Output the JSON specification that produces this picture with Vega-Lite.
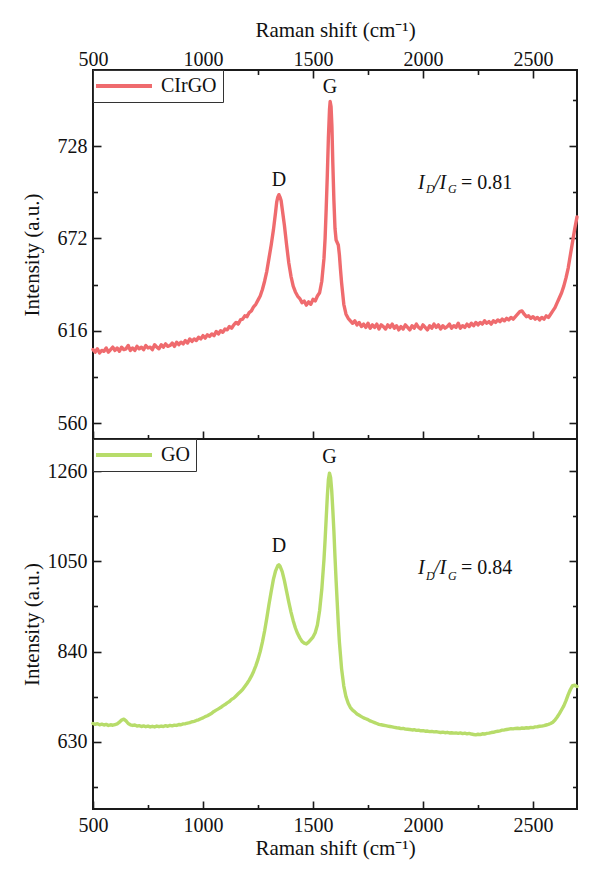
{
  "$schema": "https://vega.github.io/schema/vega-lite/v6.json",
  "padding": {"left": 20, "top": 18, "right": 20, "bottom": 20},
  "background": "white",
  "config": {
    "font": "Liberation Serif",
    "view": {"stroke": "#1a1a1a", "strokeWidth": 2},
    "axis": {
      "grid": false,
      "domain": false,
      "format": "d",
      "tickColor": "#1a1a1a",
      "tickWidth": 1.6,
      "labelFont": "Liberation Serif",
      "labelFontSize": 20,
      "labelColor": "#111111",
      "labelFlush": false,
      "labelOverlap": false,
      "labelBound": false,
      "titleFont": "Liberation Serif",
      "titleFontSize": 21,
      "titleFontWeight": "normal",
      "titleColor": "#111111"
    },
    "legend": {
      "orient": "top-left",
      "offset": 0,
      "padding": 6,
      "strokeColor": "#333333",
      "strokeWidth": 1,
      "fillColor": "white",
      "symbolType": "M-4,0H4",
      "symbolSize": 196,
      "symbolStrokeWidth": 4,
      "symbolOffset": 15,
      "labelFont": "Liberation Serif",
      "labelFontSize": 20,
      "labelColor": "#111111",
      "labelOffset": 27
    },
    "text": {"font": "Liberation Serif", "fontSize": 20, "color": "#111111"}
  },
  "datasets": {
    "cirgo": [
      {"w":500,"i":604.5},{"w":510,"i":603},{"w":520,"i":605},{"w":530,"i":602.5},{"w":540,"i":604},
      {"w":550,"i":603.5},{"w":560,"i":605.5},{"w":570,"i":603},{"w":580,"i":604.5},{"w":590,"i":606},
      {"w":600,"i":604},{"w":610,"i":605.5},{"w":620,"i":603.5},{"w":630,"i":606},{"w":640,"i":604.5},
      {"w":650,"i":605},{"w":660,"i":607},{"w":670,"i":604},{"w":680,"i":605.5},{"w":690,"i":604},
      {"w":700,"i":606.5},{"w":710,"i":605},{"w":720,"i":606},{"w":730,"i":604.5},{"w":740,"i":607},
      {"w":750,"i":605.5},{"w":760,"i":606},{"w":770,"i":604.5},{"w":780,"i":607.5},{"w":790,"i":606},
      {"w":800,"i":605},{"w":810,"i":607.5},{"w":820,"i":606},{"w":830,"i":608},{"w":840,"i":606.5},
      {"w":850,"i":607},{"w":860,"i":608.5},{"w":870,"i":606.5},{"w":880,"i":609},{"w":890,"i":607.5},
      {"w":900,"i":609},{"w":910,"i":608},{"w":920,"i":610},{"w":930,"i":608.5},{"w":940,"i":611},
      {"w":950,"i":609.5},{"w":960,"i":611},{"w":970,"i":610},{"w":980,"i":612},{"w":990,"i":611},
      {"w":1000,"i":613},{"w":1010,"i":611.5},{"w":1020,"i":613.5},{"w":1030,"i":612.5},{"w":1040,"i":614},
      {"w":1050,"i":613},{"w":1060,"i":615.5},{"w":1070,"i":614},{"w":1080,"i":616},{"w":1090,"i":615},
      {"w":1100,"i":617},{"w":1110,"i":616.5},{"w":1120,"i":618.5},{"w":1130,"i":617.5},{"w":1140,"i":619.5},
      {"w":1150,"i":621},{"w":1160,"i":620},{"w":1170,"i":622.5},{"w":1180,"i":623},{"w":1190,"i":625},
      {"w":1200,"i":624.5},{"w":1210,"i":627},{"w":1220,"i":628},{"w":1230,"i":630.5},{"w":1240,"i":632},
      {"w":1250,"i":634.5},{"w":1260,"i":637},{"w":1270,"i":641},{"w":1280,"i":646},{"w":1290,"i":652},
      {"w":1300,"i":660},{"w":1310,"i":668},{"w":1320,"i":677},{"w":1330,"i":688},{"w":1335,"i":694},
      {"w":1340,"i":697},{"w":1345,"i":698.5},{"w":1350,"i":697},{"w":1355,"i":695},{"w":1360,"i":690},
      {"w":1370,"i":680},{"w":1380,"i":668},{"w":1390,"i":657},{"w":1400,"i":649},{"w":1410,"i":643},
      {"w":1420,"i":639.5},{"w":1430,"i":637},{"w":1440,"i":635.5},{"w":1450,"i":633},{"w":1460,"i":634},
      {"w":1470,"i":631.5},{"w":1480,"i":633.5},{"w":1490,"i":632},{"w":1500,"i":635},{"w":1510,"i":634},
      {"w":1520,"i":637},{"w":1530,"i":639},{"w":1540,"i":646},{"w":1550,"i":660},{"w":1555,"i":672},
      {"w":1560,"i":690},{"w":1565,"i":710},{"w":1570,"i":733},{"w":1575,"i":750},{"w":1578,"i":755},
      {"w":1582,"i":752},{"w":1586,"i":740},{"w":1590,"i":718},{"w":1595,"i":695},{"w":1600,"i":678},
      {"w":1605,"i":671},{"w":1610,"i":669.5},{"w":1615,"i":668},{"w":1620,"i":662},{"w":1625,"i":653},
      {"w":1630,"i":645},{"w":1640,"i":632},{"w":1650,"i":626},{"w":1660,"i":623.5},{"w":1670,"i":622},
      {"w":1680,"i":620.5},{"w":1690,"i":622},{"w":1700,"i":619.5},{"w":1710,"i":621},{"w":1720,"i":618.5},
      {"w":1730,"i":620},{"w":1740,"i":618},{"w":1750,"i":620.5},{"w":1760,"i":617.5},{"w":1770,"i":619.5},
      {"w":1780,"i":618},{"w":1790,"i":620},{"w":1800,"i":617},{"w":1810,"i":619.5},{"w":1820,"i":618.5},
      {"w":1830,"i":617},{"w":1840,"i":619.5},{"w":1850,"i":618},{"w":1860,"i":620},{"w":1870,"i":617.5},
      {"w":1880,"i":619},{"w":1890,"i":616.5},{"w":1900,"i":618.5},{"w":1910,"i":617},{"w":1920,"i":619.5},
      {"w":1930,"i":618},{"w":1940,"i":616.5},{"w":1950,"i":619},{"w":1960,"i":617.5},{"w":1970,"i":620},
      {"w":1980,"i":618},{"w":1990,"i":617},{"w":2000,"i":619.5},{"w":2010,"i":618},{"w":2020,"i":616.5},
      {"w":2030,"i":619},{"w":2040,"i":617.5},{"w":2050,"i":620},{"w":2060,"i":618},{"w":2070,"i":619.5},
      {"w":2080,"i":617},{"w":2090,"i":619},{"w":2100,"i":617.5},{"w":2110,"i":618.5},{"w":2120,"i":620},
      {"w":2130,"i":617.5},{"w":2140,"i":619},{"w":2150,"i":618},{"w":2160,"i":620.5},{"w":2170,"i":617.5},
      {"w":2180,"i":619},{"w":2190,"i":618},{"w":2200,"i":620},{"w":2210,"i":618.5},{"w":2220,"i":620.5},
      {"w":2230,"i":619},{"w":2240,"i":621},{"w":2250,"i":619.5},{"w":2260,"i":621},{"w":2270,"i":620},
      {"w":2280,"i":622},{"w":2290,"i":620.5},{"w":2300,"i":621.5},{"w":2310,"i":620},{"w":2320,"i":622},
      {"w":2330,"i":621},{"w":2340,"i":622.5},{"w":2350,"i":621.5},{"w":2360,"i":623},{"w":2370,"i":622},
      {"w":2380,"i":623.5},{"w":2390,"i":622.5},{"w":2400,"i":624},{"w":2410,"i":623},{"w":2420,"i":624.5},
      {"w":2430,"i":626},{"w":2440,"i":627.5},{"w":2450,"i":628},{"w":2460,"i":626},{"w":2470,"i":624.5},
      {"w":2480,"i":625},{"w":2490,"i":623.5},{"w":2500,"i":624.5},{"w":2510,"i":623},{"w":2520,"i":624},
      {"w":2530,"i":622.5},{"w":2540,"i":624},{"w":2550,"i":623},{"w":2560,"i":625},{"w":2570,"i":624},
      {"w":2580,"i":626},{"w":2590,"i":628},{"w":2600,"i":630},{"w":2610,"i":633},{"w":2620,"i":636},
      {"w":2630,"i":639},{"w":2640,"i":643},{"w":2650,"i":648},{"w":2660,"i":654},{"w":2670,"i":662},
      {"w":2680,"i":670},{"w":2690,"i":678},{"w":2700,"i":685}
    ],
    "go": [
      {"w":500,"i":673},{"w":510,"i":671},{"w":520,"i":672.5},{"w":530,"i":670},{"w":540,"i":671.5},
      {"w":550,"i":669.5},{"w":560,"i":671},{"w":570,"i":668.5},{"w":580,"i":670},{"w":590,"i":669},
      {"w":600,"i":670.5},{"w":610,"i":672},{"w":620,"i":676},{"w":630,"i":681},{"w":640,"i":683},
      {"w":650,"i":679},{"w":660,"i":673},{"w":670,"i":670},{"w":680,"i":668.5},{"w":690,"i":669.5},
      {"w":700,"i":667},{"w":710,"i":668},{"w":720,"i":666},{"w":730,"i":667.5},{"w":740,"i":665.5},
      {"w":750,"i":667},{"w":760,"i":665},{"w":770,"i":666.5},{"w":780,"i":665},{"w":790,"i":667},
      {"w":800,"i":665.5},{"w":810,"i":667},{"w":820,"i":666},{"w":830,"i":668},{"w":840,"i":666.5},
      {"w":850,"i":668.5},{"w":860,"i":667.5},{"w":870,"i":669},{"w":880,"i":668.5},{"w":890,"i":670.5},
      {"w":900,"i":670},{"w":910,"i":672},{"w":920,"i":672.5},{"w":930,"i":674},{"w":940,"i":675},
      {"w":950,"i":677},{"w":960,"i":678},{"w":970,"i":680},{"w":980,"i":681.5},{"w":990,"i":684},
      {"w":1000,"i":686},{"w":1010,"i":689},{"w":1020,"i":691},{"w":1030,"i":694},{"w":1040,"i":697},
      {"w":1050,"i":701},{"w":1060,"i":704},{"w":1070,"i":707},{"w":1080,"i":710},{"w":1090,"i":714},
      {"w":1100,"i":717},{"w":1110,"i":721},{"w":1120,"i":724},{"w":1130,"i":729},{"w":1140,"i":732},
      {"w":1150,"i":737},{"w":1160,"i":742},{"w":1170,"i":747},{"w":1180,"i":752},{"w":1190,"i":759},
      {"w":1200,"i":766},{"w":1210,"i":774},{"w":1220,"i":783},{"w":1230,"i":794},{"w":1240,"i":807},
      {"w":1250,"i":822},{"w":1260,"i":840},{"w":1270,"i":862},{"w":1280,"i":888},{"w":1290,"i":918},
      {"w":1300,"i":950},{"w":1310,"i":980},{"w":1320,"i":1008},{"w":1330,"i":1028},{"w":1340,"i":1040},
      {"w":1345,"i":1042},{"w":1350,"i":1039},{"w":1360,"i":1026},{"w":1370,"i":1005},{"w":1380,"i":980},
      {"w":1390,"i":955},{"w":1400,"i":932},{"w":1410,"i":912},{"w":1420,"i":895},{"w":1430,"i":882},
      {"w":1440,"i":872},{"w":1450,"i":864},{"w":1460,"i":860},{"w":1470,"i":858},{"w":1480,"i":862},
      {"w":1490,"i":868},{"w":1500,"i":874},{"w":1510,"i":884},{"w":1520,"i":902},{"w":1530,"i":935},
      {"w":1540,"i":985},{"w":1550,"i":1055},{"w":1555,"i":1100},{"w":1560,"i":1150},{"w":1565,"i":1200},
      {"w":1570,"i":1240},{"w":1575,"i":1255},{"w":1580,"i":1245},{"w":1585,"i":1215},{"w":1590,"i":1170},
      {"w":1595,"i":1120},{"w":1600,"i":1060},{"w":1605,"i":1005},{"w":1610,"i":955},{"w":1615,"i":905},
      {"w":1620,"i":862},{"w":1630,"i":800},{"w":1640,"i":760},{"w":1650,"i":735},{"w":1660,"i":720},
      {"w":1670,"i":710},{"w":1680,"i":704},{"w":1690,"i":700},{"w":1700,"i":695},{"w":1710,"i":692},
      {"w":1720,"i":689},{"w":1730,"i":686},{"w":1740,"i":684},{"w":1750,"i":682},{"w":1760,"i":679},
      {"w":1770,"i":677},{"w":1780,"i":675},{"w":1790,"i":673},{"w":1800,"i":671},{"w":1810,"i":670},
      {"w":1820,"i":669},{"w":1830,"i":668},{"w":1840,"i":667},{"w":1850,"i":666},{"w":1860,"i":665},
      {"w":1870,"i":664},{"w":1880,"i":663},{"w":1890,"i":662.5},{"w":1900,"i":661},{"w":1910,"i":661.5},
      {"w":1920,"i":660},{"w":1930,"i":659.5},{"w":1940,"i":659},{"w":1950,"i":658},{"w":1960,"i":658.5},
      {"w":1970,"i":657},{"w":1980,"i":657.5},{"w":1990,"i":656},{"w":2000,"i":656.5},{"w":2010,"i":655},
      {"w":2020,"i":655.5},{"w":2030,"i":654},{"w":2040,"i":654.5},{"w":2050,"i":653.5},{"w":2060,"i":654},
      {"w":2070,"i":653},{"w":2080,"i":652},{"w":2090,"i":653},{"w":2100,"i":651.5},{"w":2110,"i":652.5},
      {"w":2120,"i":651},{"w":2130,"i":651.5},{"w":2140,"i":650.5},{"w":2150,"i":651},{"w":2160,"i":650},
      {"w":2170,"i":651},{"w":2180,"i":649.5},{"w":2190,"i":650.5},{"w":2200,"i":649},{"w":2210,"i":650},
      {"w":2220,"i":648.5},{"w":2230,"i":647.5},{"w":2240,"i":646.5},{"w":2250,"i":648},{"w":2260,"i":647},
      {"w":2270,"i":649},{"w":2280,"i":648.5},{"w":2290,"i":650},{"w":2300,"i":650.5},{"w":2310,"i":652},
      {"w":2320,"i":652.5},{"w":2330,"i":654},{"w":2340,"i":655},{"w":2350,"i":656},{"w":2360,"i":657.5},
      {"w":2370,"i":658},{"w":2380,"i":659},{"w":2390,"i":660},{"w":2400,"i":661},{"w":2410,"i":660.5},
      {"w":2420,"i":661.5},{"w":2430,"i":662},{"w":2440,"i":661},{"w":2450,"i":662.5},{"w":2460,"i":662},
      {"w":2470,"i":663},{"w":2480,"i":662.5},{"w":2490,"i":664},{"w":2500,"i":663.5},{"w":2510,"i":665},
      {"w":2520,"i":665.5},{"w":2530,"i":666.5},{"w":2540,"i":667},{"w":2550,"i":668},{"w":2560,"i":669.5},
      {"w":2570,"i":671},{"w":2580,"i":673},{"w":2590,"i":676},{"w":2600,"i":681},{"w":2610,"i":688},
      {"w":2620,"i":696},{"w":2630,"i":705},{"w":2640,"i":714},{"w":2650,"i":726},{"w":2660,"i":740},
      {"w":2670,"i":752},{"w":2680,"i":761},{"w":2690,"i":762},{"w":2700,"i":759}
    ],
    "peaksTop": [{"t":"D","w":1345,"i":707.4},{"t":"G","w":1577,"i":763.6}],
    "peaksBottom": [{"t":"D","w":1345,"i":1085.6},{"t":"G","w":1575,"i":1293}],
    "ratioTopMain": [{"t":"I","w":1977,"i":705.5},{"t":"/I","w":2050,"i":705.5}],
    "ratioTopSub": [{"t":"D","w":2014,"i":702},{"t":"G","w":2114,"i":702}],
    "ratioTopValue": [{"t":"= 0.81","w":2173,"i":705.5}],
    "ratioBottomMain": [{"t":"I","w":1977,"i":1034},{"t":"/I","w":2050,"i":1034}],
    "ratioBottomSub": [{"t":"D","w":2014,"i":1016},{"t":"G","w":2114,"i":1016}],
    "ratioBottomValue": [{"t":"= 0.84","w":2173,"i":1034}]
  },
  "spacing": 0,
  "bounds": "flush",
  "resolve": {
    "scale": {"x": "independent", "y": "independent", "color": "independent"},
    "axis": {"x": "independent", "y": "independent"},
    "legend": {"color": "independent"}
  },
  "vconcat": [
    {
      "width": 484,
      "height": 369,
      "resolve": {"axis": {"x": "independent", "y": "independent"}},
      "layer": [
        {
          "data": {"name": "cirgo"},
          "mark": {"type": "line", "strokeWidth": 3.4, "strokeJoin": "round", "strokeCap": "round"},
          "encoding": {
            "x": {"field": "w", "type": "quantitative",
              "scale": {"domain": [500, 2700], "nice": false, "zero": false},
              "axis": {"orient": "top", "values": [500, 1000, 1500, 2000, 2500], "tickSize": -8, "labelPadding": 9,
                "title": "Raman shift (cm⁻¹)", "titleY": -40, "titleBaseline": "middle"}},
            "y": {"field": "i", "type": "quantitative",
              "scale": {"domain": [550.3, 774.1], "nice": false, "zero": false},
              "axis": {"orient": "left", "values": [560, 616, 672, 728], "tickSize": -8, "labelPadding": 14,
                "title": "Intensity (a.u.)", "titleX": -61, "titleBaseline": "middle"}},
            "color": {"datum": "CIrGO", "type": "nominal",
              "scale": {"range": ["#ef6b6e"]},
              "legend": {"title": null}}
          }
        },
        {
          "data": {"name": "peaksTop"},
          "mark": {"type": "text", "align": "center", "baseline": "middle"},
          "encoding": {
            "x": {"field": "w", "type": "quantitative",
              "scale": {"domain": [500, 2700], "nice": false, "zero": false},
              "axis": {"orient": "top", "values": [750, 1250, 1750, 2250], "tickSize": -4.5, "labels": false, "title": null}},
            "y": {"field": "i", "type": "quantitative",
              "scale": {"domain": [550.3, 774.1], "nice": false, "zero": false},
              "axis": {"orient": "left", "values": [588, 644, 700, 756], "tickSize": -4.5, "labels": false, "title": null}},
            "text": {"field": "t"}
          }
        },
        {
          "data": {"name": "ratioTopMain"},
          "mark": {"type": "text", "align": "left", "baseline": "middle", "fontStyle": "italic"},
          "encoding": {
            "x": {"field": "w", "type": "quantitative",
              "scale": {"domain": [500, 2700], "nice": false, "zero": false},
              "axis": {"orient": "bottom", "values": [500, 1000, 1500, 2000, 2500], "tickSize": -8, "labels": false, "title": null}},
            "y": {"field": "i", "type": "quantitative",
              "scale": {"domain": [550.3, 774.1], "nice": false, "zero": false},
              "axis": {"orient": "right", "values": [560, 616, 672, 728], "tickSize": -8, "labels": false, "title": null}},
            "text": {"field": "t"}
          }
        },
        {
          "data": {"name": "ratioTopSub"},
          "mark": {"type": "text", "align": "left", "baseline": "middle", "fontStyle": "italic", "fontSize": 12},
          "encoding": {
            "x": {"field": "w", "type": "quantitative",
              "scale": {"domain": [500, 2700], "nice": false, "zero": false},
              "axis": {"orient": "bottom", "values": [750, 1250, 1750, 2250], "tickSize": -4.5, "labels": false, "title": null}},
            "y": {"field": "i", "type": "quantitative",
              "scale": {"domain": [550.3, 774.1], "nice": false, "zero": false},
              "axis": {"orient": "right", "values": [588, 644, 700, 756], "tickSize": -4.5, "labels": false, "title": null}},
            "text": {"field": "t"}
          }
        },
        {
          "data": {"name": "ratioTopValue"},
          "mark": {"type": "text", "align": "left", "baseline": "middle"},
          "encoding": {
            "x": {"field": "w", "type": "quantitative",
              "scale": {"domain": [500, 2700], "nice": false, "zero": false}, "axis": null},
            "y": {"field": "i", "type": "quantitative",
              "scale": {"domain": [550.3, 774.1], "nice": false, "zero": false}, "axis": null},
            "text": {"field": "t"}
          }
        }
      ]
    },
    {
      "width": 484,
      "height": 370,
      "resolve": {"axis": {"x": "independent", "y": "independent"}},
      "layer": [
        {
          "data": {"name": "go"},
          "mark": {"type": "line", "strokeWidth": 3.4, "strokeJoin": "round", "strokeCap": "round"},
          "encoding": {
            "x": {"field": "w", "type": "quantitative",
              "scale": {"domain": [500, 2700], "nice": false, "zero": false},
              "axis": {"orient": "bottom", "values": [500, 1000, 1500, 2000, 2500], "tickSize": -8, "labelPadding": 14,
                "title": "Raman shift (cm⁻¹)", "titleY": 39, "titleBaseline": "middle"}},
            "y": {"field": "i", "type": "quantitative",
              "scale": {"domain": [474.2, 1334.4], "nice": false, "zero": false},
              "axis": {"orient": "left", "values": [630, 840, 1050, 1260], "tickSize": -8, "labelPadding": 14,
                "title": "Intensity (a.u.)", "titleX": -61, "titleBaseline": "middle"}},
            "color": {"datum": "GO", "type": "nominal",
              "scale": {"range": ["#b7dc6a"]},
              "legend": {"title": null}}
          }
        },
        {
          "data": {"name": "peaksBottom"},
          "mark": {"type": "text", "align": "center", "baseline": "middle"},
          "encoding": {
            "x": {"field": "w", "type": "quantitative",
              "scale": {"domain": [500, 2700], "nice": false, "zero": false},
              "axis": {"orient": "bottom", "values": [750, 1250, 1750, 2250], "tickSize": -4.5, "labels": false, "title": null}},
            "y": {"field": "i", "type": "quantitative",
              "scale": {"domain": [474.2, 1334.4], "nice": false, "zero": false},
              "axis": {"orient": "left", "values": [525, 735, 945, 1155], "tickSize": -4.5, "labels": false, "title": null}},
            "text": {"field": "t"}
          }
        },
        {
          "data": {"name": "ratioBottomMain"},
          "mark": {"type": "text", "align": "left", "baseline": "middle", "fontStyle": "italic"},
          "encoding": {
            "x": {"field": "w", "type": "quantitative",
              "scale": {"domain": [500, 2700], "nice": false, "zero": false}, "axis": null},
            "y": {"field": "i", "type": "quantitative",
              "scale": {"domain": [474.2, 1334.4], "nice": false, "zero": false},
              "axis": {"orient": "right", "values": [630, 840, 1050, 1260], "tickSize": -8, "labels": false, "title": null}},
            "text": {"field": "t"}
          }
        },
        {
          "data": {"name": "ratioBottomSub"},
          "mark": {"type": "text", "align": "left", "baseline": "middle", "fontStyle": "italic", "fontSize": 12},
          "encoding": {
            "x": {"field": "w", "type": "quantitative",
              "scale": {"domain": [500, 2700], "nice": false, "zero": false}, "axis": null},
            "y": {"field": "i", "type": "quantitative",
              "scale": {"domain": [474.2, 1334.4], "nice": false, "zero": false},
              "axis": {"orient": "right", "values": [525, 735, 945, 1155], "tickSize": -4.5, "labels": false, "title": null}},
            "text": {"field": "t"}
          }
        },
        {
          "data": {"name": "ratioBottomValue"},
          "mark": {"type": "text", "align": "left", "baseline": "middle"},
          "encoding": {
            "x": {"field": "w", "type": "quantitative",
              "scale": {"domain": [500, 2700], "nice": false, "zero": false}, "axis": null},
            "y": {"field": "i", "type": "quantitative",
              "scale": {"domain": [474.2, 1334.4], "nice": false, "zero": false}, "axis": null},
            "text": {"field": "t"}
          }
        }
      ]
    }
  ]
}
